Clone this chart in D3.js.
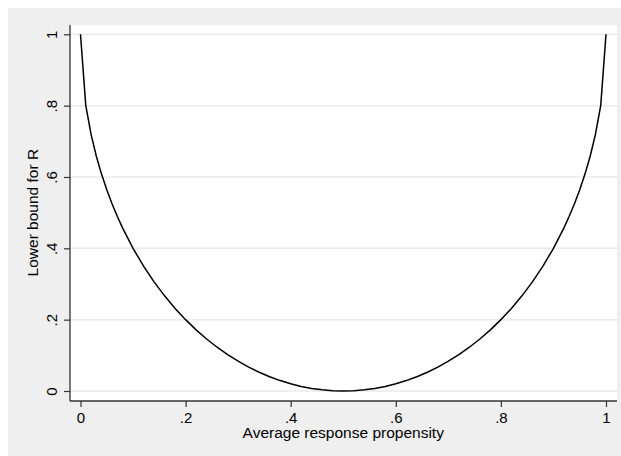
<!DOCTYPE html>
<html><head><meta charset="utf-8">
<script src="https://cdn.jsdelivr.net/npm/d3@7"></script>
<style>body{margin:0;background:#fff}svg{display:block}text{font-family:"Liberation Sans",Arial,sans-serif;fill:#000}</style>
</head><body><div id="chart"></div>
<script>
const propensity = [0,0.01,0.02,0.03,0.04,0.05,0.06,0.07,0.08,0.10,0.12,0.14,0.16,0.18,0.20,0.22,0.24,0.26,0.28,0.30,0.32,0.34,0.36,0.38,0.40,0.42,0.44,0.46,0.48,0.50,
  0.52,0.54,0.56,0.58,0.60,0.62,0.64,0.66,0.68,0.70,0.72,0.74,0.76,0.78,0.80,0.82,0.84,0.86,0.88,0.90,0.92,0.93,0.94,0.95,0.96,0.97,0.98,0.99,1];
const lowerBound = [1,0.8010,0.72,0.6588,0.6081,0.5641,0.5250,0.4897,0.4574,0.4,0.3501,0.3060,0.2668,0.2316,0.2,0.1715,0.1458,0.1227,0.1020,0.0835,0.0670,0.0526,0.04,0.0292,0.0202,0.0129,0.0072,0.0032,0.0008,0,
  0.0008,0.0032,0.0072,0.0129,0.0202,0.0292,0.04,0.0526,0.0670,0.0835,0.1020,0.1227,0.1458,0.1715,0.2,0.2316,0.2668,0.3060,0.3501,0.4,0.4574,0.4897,0.5250,0.5641,0.6081,0.6588,0.72,0.8010,1];
const xTicks = [0,0.2,0.4,0.6,0.8,1];
const xTickLabels = ["0",".2",".4",".6",".8","1"];
const yTicks = [0,0.2,0.4,0.6,0.8,1];
const yTickLabels = ["0",".2",".4",".6",".8","1"];
const xTitle = "Average response propensity";
const yTitle = "Lower bound for R";

const W=621,H=456;
const svg=d3.select("#chart").append("svg").attr("width",W).attr("height",H);
svg.append("rect").attr("x",8).attr("y",8).attr("width",W-8).attr("height",H-8).attr("fill","#efefef");
const plot={l:70,t:25,r:617,b:401};
svg.append("rect").attr("x",plot.l).attr("y",plot.t).attr("width",plot.r-plot.l).attr("height",plot.b-plot.t).attr("fill","#fff");

const x=d3.scaleLinear().domain([0,1]).range([80.5,606]);
const y=d3.scaleLinear().domain([0,1]).range([391,34.3]);

// gridlines
svg.append("g").selectAll("line").data(yTicks).join("line")
  .attr("x1",plot.l).attr("x2",plot.r).attr("y1",d=>y(d)).attr("y2",d=>y(d))
  .attr("stroke","#eaeaea").attr("stroke-width",1.5);

// y axis
const yAxis=svg.append("g").attr("transform",`translate(${plot.l},0)`)
  .call(d3.axisLeft(y).tickValues(yTicks).tickFormat((d,i)=>yTickLabels[i]).tickSize(6).tickPadding(0));
yAxis.select(".domain").attr("d",`M0,${plot.t}V${plot.b}`).attr("stroke","#333").attr("stroke-width",1.3);
yAxis.selectAll(".tick line").attr("stroke","#333").attr("stroke-width",1.2);
yAxis.selectAll(".tick text").attr("x",null).attr("dy",null).attr("text-anchor","middle")
  .attr("transform","translate(-13.5,0) rotate(-90)").style("font-size","15px").style("font-family","'Liberation Sans',Arial,sans-serif").attr("fill","#000");

// x axis
const xAxis=svg.append("g").attr("transform",`translate(0,${plot.b})`)
  .call(d3.axisBottom(x).tickValues(xTicks).tickFormat((d,i)=>xTickLabels[i]).tickSize(6).tickPadding(0));
xAxis.select(".domain").attr("d",`M${plot.l},0H${plot.r}`).attr("stroke","#333").attr("stroke-width",1.3);
xAxis.selectAll(".tick line").attr("stroke","#333").attr("stroke-width",1.2);
xAxis.selectAll(".tick text").attr("y",21.5).attr("dy",null).style("font-size","15px").style("font-family","'Liberation Sans',Arial,sans-serif").attr("fill","#000");

// titles
svg.append("text").attr("x",(x(0)+x(1))/2).attr("y",438).attr("text-anchor","middle").style("font-size","15.5px").text(xTitle);
svg.append("text").attr("transform",`translate(38,${(y(0)+y(1))/2}) rotate(-90)`).attr("text-anchor","middle").style("font-size","15.5px").text(yTitle);

// line
const line=d3.line().x((d,i)=>x(propensity[i])).y(d=>y(d));
svg.append("path").datum(lowerBound).attr("d",line).attr("fill","none").attr("stroke","#000").attr("stroke-width",1.5);
</script></body></html>
